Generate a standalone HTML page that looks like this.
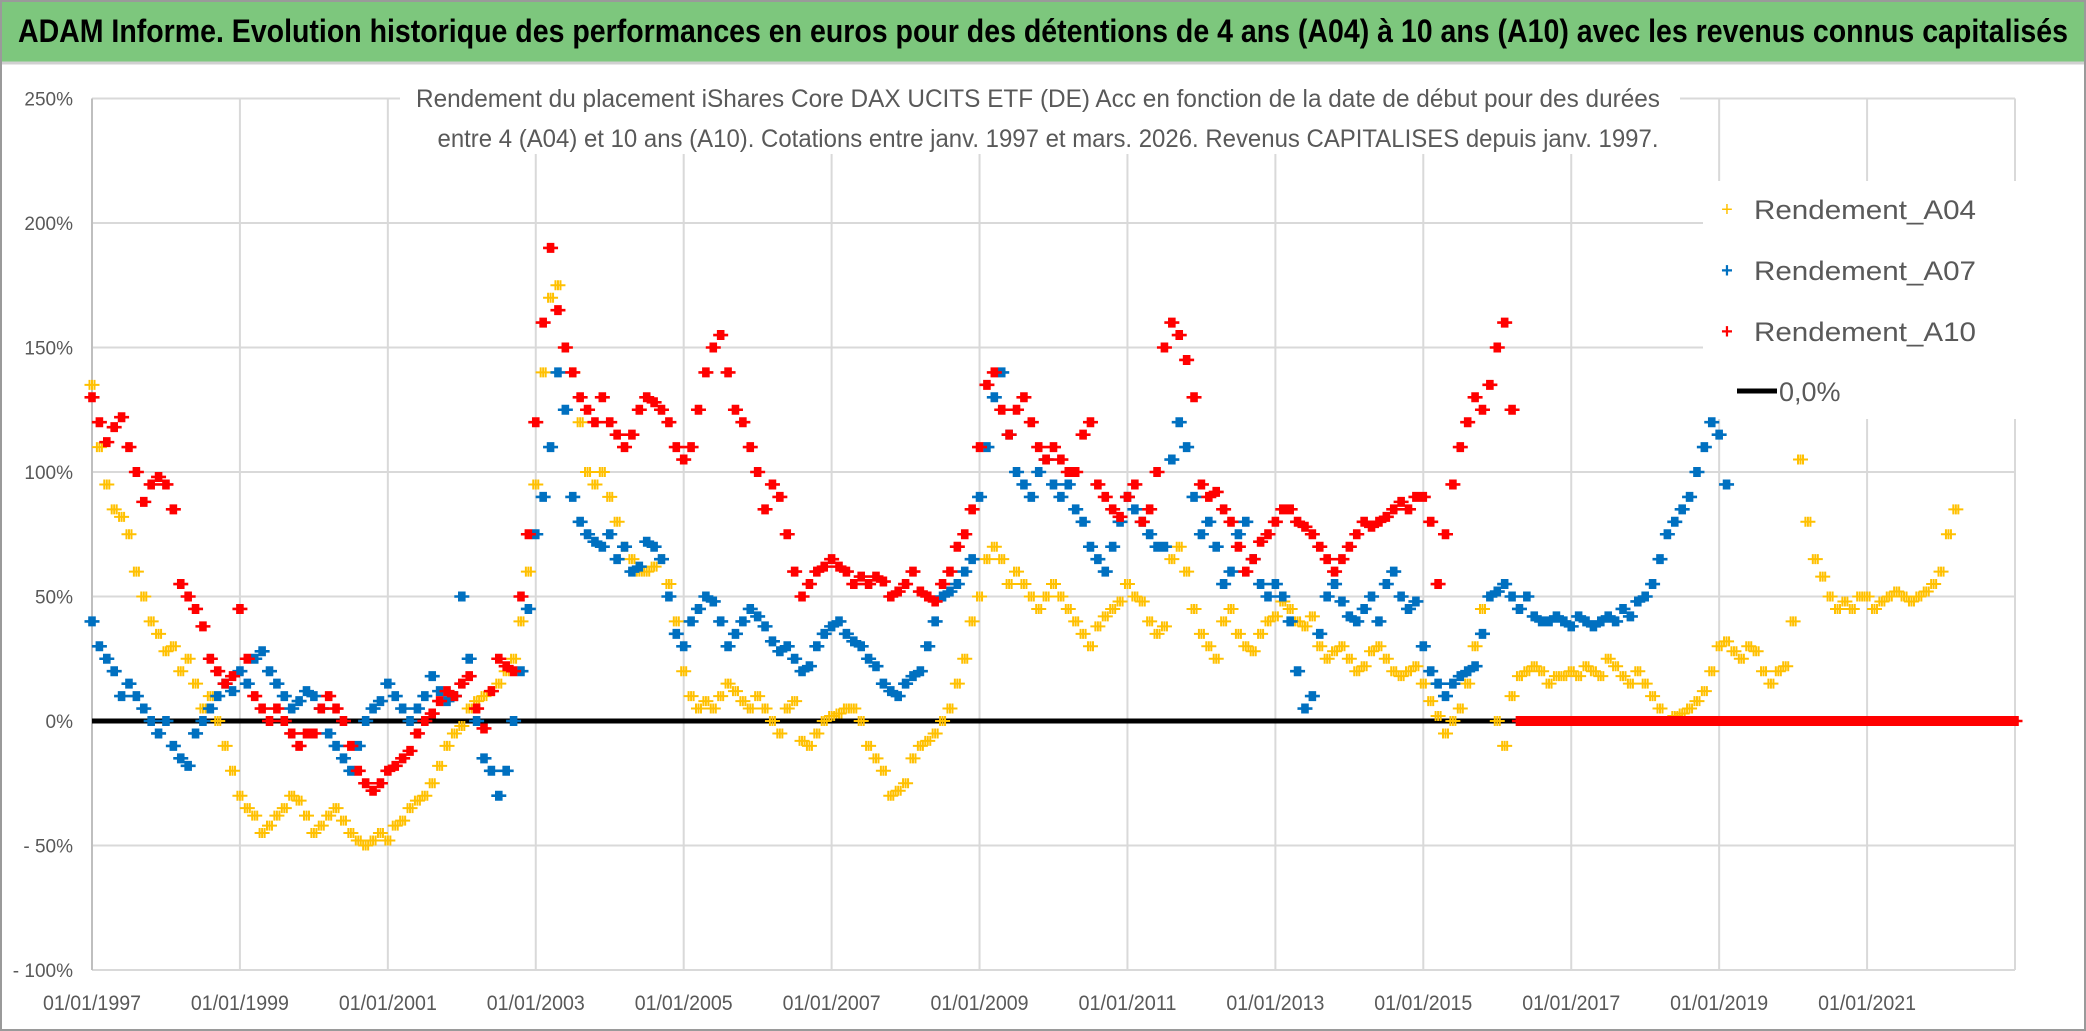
<!DOCTYPE html>
<html><head><meta charset="utf-8"><style>
html,body{margin:0;padding:0;background:#fff;}
svg{display:block;}
</style></head><body>
<svg id="chart" width="2086" height="1031" xmlns="http://www.w3.org/2000/svg" font-family="'Liberation Sans Narrow','Liberation Sans',sans-serif">
<rect x="1" y="1" width="2084" height="1029" fill="#fff" stroke="#9a9a9a" stroke-width="2"/>
<rect x="2" y="2" width="2082" height="60" fill="#7DC77D"/>
<line x1="2" y1="63" x2="2084" y2="63" stroke="#d0d0d0" stroke-width="3"/>
<text x="1043" y="42" text-anchor="middle" font-size="32" font-weight="bold" fill="#000" textLength="2050" lengthAdjust="spacingAndGlyphs">ADAM Informe. Evolution historique des performances en euros pour des détentions de 4 ans (A04) à 10 ans (A10) avec les revenus connus capitalisés</text>
<g id="grid"></g>
<rect x="1703" y="181" width="330" height="238" fill="#fff"/>
<g id="axes"></g>
<line id="zeroline" stroke="#000" stroke-width="5"/>
<g id="marks"></g>
<rect x="400" y="78" width="1280" height="76" fill="#fff"/>
<text x="1038" y="107" text-anchor="middle" font-size="25" fill="#595959" textLength="1244" lengthAdjust="spacingAndGlyphs">Rendement du placement iShares Core DAX UCITS ETF (DE) Acc en fonction de la date de début pour des durées</text>
<text x="1048" y="147" text-anchor="middle" font-size="25" fill="#595959" textLength="1221" lengthAdjust="spacingAndGlyphs">entre 4 (A04) et 10 ans (A10). Cotations entre janv. 1997 et mars. 2026. Revenus CAPITALISES depuis janv. 1997.</text>
<g>
 <g><text x="1727" y="216" font-size="20" fill="#FFC000" text-anchor="middle">+</text><text x="1754" y="219" font-size="27" fill="#595959" textLength="222" lengthAdjust="spacingAndGlyphs">Rendement_A04</text></g>
 <g><text x="1727" y="277" font-size="20" fill="#0070C0" font-weight="bold" text-anchor="middle">+</text><text x="1754" y="280" font-size="27" fill="#595959" textLength="222" lengthAdjust="spacingAndGlyphs">Rendement_A07</text></g>
 <g><text x="1727" y="338" font-size="20" fill="#FF0000" font-weight="bold" text-anchor="middle">+</text><text x="1754" y="341" font-size="27" fill="#595959" textLength="222" lengthAdjust="spacingAndGlyphs">Rendement_A10</text></g>
 <g><line x1="1737" y1="391" x2="1777" y2="391" stroke="#000" stroke-width="5"/><text x="1779" y="401" font-size="27" fill="#595959">0,0%</text></g>
</g>
</svg>
<script>
const yTicks = [250,200,150,100,50,0,-50,-100];
const yTickLabels = ["250%","200%","150%","100%","50%","0%","- 50%","- 100%"];
const xTickYears = [1997,1999,2001,2003,2005,2007,2009,2011,2013,2015,2017,2019,2021,2023];
const xTickLabels = ["01/01/1997","01/01/1999","01/01/2001","01/01/2003","01/01/2005","01/01/2007","01/01/2009","01/01/2011","01/01/2013","01/01/2015","01/01/2017","01/01/2019","01/01/2021",""];
const startYear = 1997;
const stepYears = 0.1;
const a04Values = [
135,110,95,85,82,75,60,50,40,35,
28,30,20,25,15,5,10,0,-10,-20,
-30,-35,-38,-45,-42,-38,-35,-30,-32,-38,
-45,-42,-38,-35,-40,-45,-48,-50,-48,-45,
-48,-42,-40,-35,-32,-30,-25,-18,-10,-5,
-2,5,8,10,12,15,20,25,40,60,
95,140,170,175,150,140,120,100,95,100,
90,80,70,65,60,60,62,65,55,40,
20,10,5,8,5,10,15,12,8,5,
10,5,0,-5,5,8,-8,-10,-5,0,
2,3,5,5,0,-10,-15,-20,-30,-28,
-25,-15,-10,-8,-5,0,5,15,25,40,
50,65,70,65,55,60,55,50,45,50,
55,50,45,40,35,30,38,42,45,48,
55,50,48,40,35,38,65,70,60,45,
35,30,25,40,45,35,30,28,35,40,
42,48,45,40,38,42,30,25,28,30,
25,20,22,28,30,25,20,18,20,22,
15,8,2,-5,0,5,15,30,45,50,
0,-10,10,18,20,22,20,15,18,18,
20,18,22,20,18,25,22,18,15,20,
15,10,5,0,2,3,5,8,12,20,
30,32,28,25,30,28,20,15,20,22,
40,105,80,65,58,50,45,48,45,50,
50,45,48,50,52,50,48,50,52,55,
60,75,85,0,0,0,0,0,0,0,
0];
const a07Values = [
40,30,25,20,10,15,10,5,0,-5,
0,-10,-15,-18,-5,0,5,10,15,12,
20,15,25,28,20,15,10,5,8,12,
10,5,-5,-10,-15,-20,-10,0,5,8,
15,10,5,0,5,10,18,12,8,10,
50,25,0,-15,-20,-30,-20,0,20,45,
75,90,110,140,125,90,80,75,72,70,
75,65,70,60,62,72,70,65,50,35,
30,40,45,50,48,40,30,35,40,45,
42,38,32,28,30,25,20,22,30,35,
38,40,35,32,30,25,22,15,12,10,
15,18,20,30,40,50,52,55,60,65,
90,110,130,140,115,100,95,90,100,105,
95,90,95,85,80,70,65,60,70,80,
90,85,80,75,70,70,105,120,110,90,
75,80,70,55,60,75,80,65,55,50,
55,50,40,20,5,10,35,50,55,48,
42,40,45,50,40,55,60,50,45,48,
30,20,15,10,15,18,20,22,35,50,
52,55,50,45,50,42,40,40,42,40,
38,42,40,38,40,42,40,45,42,48,
50,55,65,75,80,85,90,100,110,120,
115,95];
const a10Values = [
130,120,112,118,122,110,100,88,95,98,
95,85,55,50,45,38,25,20,15,18,
45,25,10,5,0,5,0,-5,-10,-5,
-5,5,10,5,0,-10,-20,-25,-28,-25,
-20,-18,-15,-12,-5,0,3,8,12,10,
15,18,5,-3,12,25,22,20,50,75,
120,160,190,165,150,140,130,125,120,130,
120,115,110,115,125,130,128,125,120,110,
105,110,125,140,150,155,140,125,120,110,
100,85,95,90,75,60,50,55,60,62,
65,62,60,55,58,55,58,56,50,52,
55,60,52,50,48,55,60,70,75,85,
110,135,140,125,115,125,130,120,110,105,
110,105,100,100,115,120,95,90,85,82,
90,95,80,85,100,150,160,155,145,130,
95,90,92,85,80,70,60,65,72,75,
80,85,85,80,78,75,70,65,60,65,
70,75,80,78,80,82,85,88,85,90,
90,80,55,75,95,110,120,130,125,135,
150,160,125,0,0,0,0,0,0,0,
0,0,0,0,0,0,0,0,0,0,
0,0,0,0,0,0,0,0,0,0,
0,0,0,0,0,0,0,0,0,0,
0,0,0,0,0,0,0,0,0,0,
0,0,0,0,0,0,0,0,0,0,
0,0,0,0,0,0,0,0,0,0,
0];

const NS = "http://www.w3.org/2000/svg";
const L = 92, R = 2015, T = 98.5, B = 970;
function xScale(yr){ return L + (yr - 1997) * (R - L) / 26; }
function yScale(v){ return T + (250 - v) * (B - T) / 350; }

const grid = document.getElementById('grid');
const axes = document.getElementById('axes');
yTicks.forEach((v,i)=>{
  const ln = document.createElementNS(NS,'line');
  ln.setAttribute('x1',L); ln.setAttribute('x2',R);
  ln.setAttribute('y1',yScale(v)); ln.setAttribute('y2',yScale(v));
  ln.setAttribute('stroke','#D9D9D9'); ln.setAttribute('stroke-width','2');
  
  
  grid.appendChild(ln);
  const t = document.createElementNS(NS,'text');
  t.setAttribute('x',73); t.setAttribute('y',yScale(v)+7);
  t.setAttribute('text-anchor','end'); t.setAttribute('font-size','19'); t.setAttribute('fill','#595959');
  t.textContent = yTickLabels[i];
  
  
  axes.appendChild(t);
});
xTickYears.forEach((yr,i)=>{
  const ln = document.createElementNS(NS,'line');
  ln.setAttribute('x1',xScale(yr)); ln.setAttribute('x2',xScale(yr));
  ln.setAttribute('y1',T); ln.setAttribute('y2',B);
  ln.setAttribute('stroke', i===0 ? '#BFBFBF' : '#D9D9D9'); ln.setAttribute('stroke-width','2');
  
  
  grid.appendChild(ln);
  if (xTickLabels[i]) {
    const t = document.createElementNS(NS,'text');
    t.setAttribute('x',xScale(yr)); t.setAttribute('y',1010);
    t.setAttribute('text-anchor','middle'); t.setAttribute('font-size','21'); t.setAttribute('fill','#595959');
    t.setAttribute('textLength','98'); t.setAttribute('lengthAdjust','spacingAndGlyphs');
    t.textContent = xTickLabels[i];
    
    
    axes.appendChild(t);
  }
});
const zl = document.getElementById('zeroline');
zl.setAttribute('x1',L); zl.setAttribute('x2',R);
zl.setAttribute('y1',yScale(0)); zl.setAttribute('y2',yScale(0));

const marks = document.getElementById('marks');
function drawSeries(vals, color, name, sw){
  const g = document.createElementNS(NS,'g');
  
  
  let d = '';
  vals.forEach((v,i)=>{
    const cx = xScale(startYear + i*stepYears), cy = yScale(v);
    [-2.5,0,2.5].forEach(o=>{
      const px = cx + o, py = cy;
      d += `M${px-5},${py}h10M${px},${py-5}v10`;
    });
  });
  const p = document.createElementNS(NS,'path');
  p.setAttribute('d', d); p.setAttribute('stroke', color); p.setAttribute('stroke-width', sw); p.setAttribute('fill','none');
  
  
  g.appendChild(p);
  marks.appendChild(g);
}
drawSeries(a04Values, '#FFC000', 'series-a04', 2);
drawSeries(a07Values, '#0070C0', 'series-a07', 2.6);
drawSeries(a10Values, '#FF0000', 'series-a10', 2.6);
</script>
</body></html>
